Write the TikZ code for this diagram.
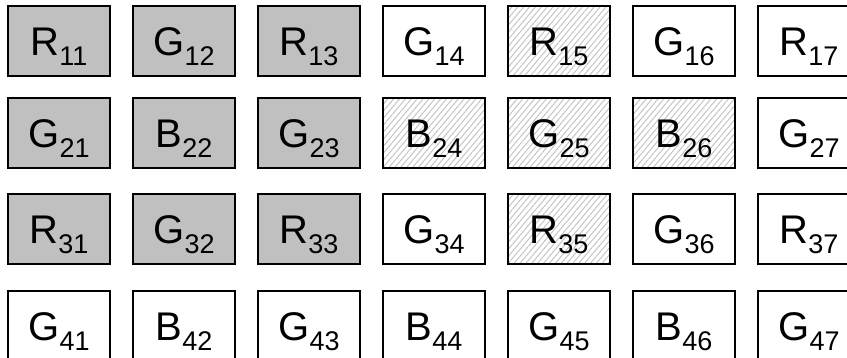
\documentclass[tikz,border=0pt]{standalone}
\usepackage{fontspec}
\setmainfont{Liberation Sans}
\usepackage{tikz}
\usetikzlibrary{patterns.meta}
\definecolor{ink}{RGB}{0,0,0}
\definecolor{shade}{RGB}{192,192,192}
\definecolor{hatchgray}{RGB}{192,192,192}
\newcommand{\pxlabel}[2]{#1\raisebox{-10pt}{\fontsize{27}{27}\selectfont #2}}
\tikzset{
  pixel/.style={draw=ink,line width=1.5pt,minimum width=102pt,minimum height=70pt,
    inner sep=0pt,text height=28.6pt,text depth=0pt,font=\fontsize{40}{40}\selectfont},
  shaded/.style={pixel,fill=shade},
  hatched/.style={pixel,pattern={Lines[angle=50,distance=4.5pt,line width=0.9pt]},
    pattern color=hatchgray},
  plain/.style={pixel,fill=white}
}

\begin{document}
\begin{tikzpicture}[x=1pt,y=1pt]
  \useasboundingbox (0,0) rectangle (847,-358);
  \foreach \r/\ytop/\cells in {
      1/6/{R/shaded,G/shaded,R/shaded,G/plain,R/hatched,G/plain,R/plain},
      2/98/{G/shaded,B/shaded,G/shaded,B/hatched,G/hatched,B/hatched,G/plain},
      3/194/{R/shaded,G/shaded,R/shaded,G/plain,R/hatched,G/plain,R/plain},
      4/291/{G/plain,B/plain,G/plain,B/plain,G/plain,B/plain,G/plain}}
    {\foreach \l/\kind [count=\c] in \cells
       {\node[\kind] (px\r\c) at ({59+125*(\c-1)},{-(\ytop+35)}) {\pxlabel{\l}{\r\c}};}}
\end{tikzpicture}
\end{document}
